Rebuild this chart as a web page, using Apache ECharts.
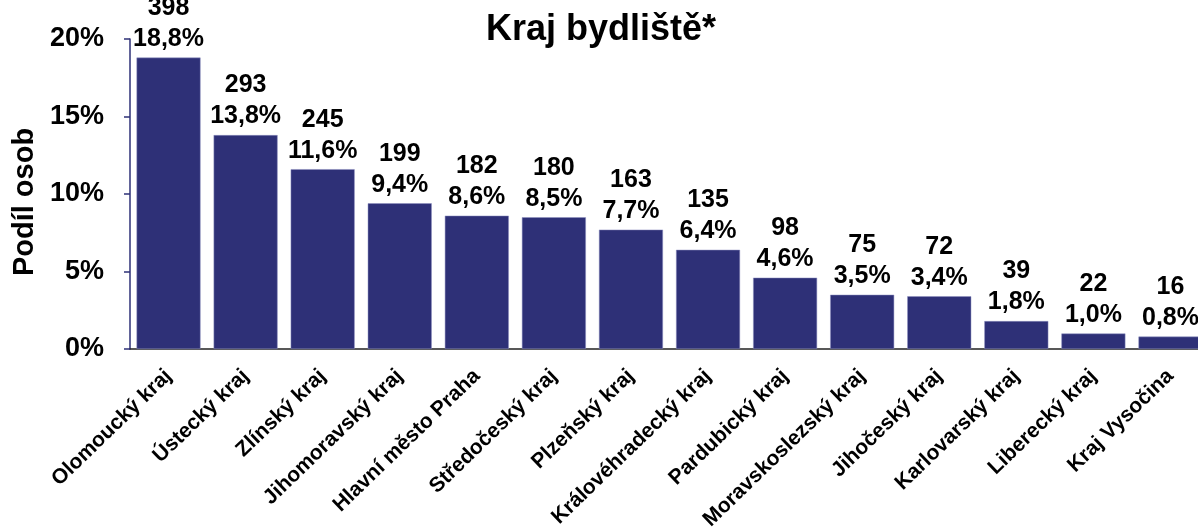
<!DOCTYPE html>
<html>
<head>
<meta charset="utf-8">
<script src="https://cdn.jsdelivr.net/npm/echarts@6/dist/echarts.min.js"></script>
<style>
  html, body { margin: 0; padding: 0; background: #fff; }
  #chart { width: 1198px; height: 528px; }
</style>
</head>
<body>
<div id="chart"></div>
<script>
// Kraj bydliště – počet osob a podíl
const categories = ['Olomoucký kraj', 'Ústecký kraj', 'Zlínský kraj', 'Jihomoravský kraj',
  'Hlavní město Praha', 'Středočeský kraj', 'Plzeňský kraj', 'Královéhradecký kraj',
  'Pardubický kraj', 'Moravskoslezský kraj', 'Jihočeský kraj', 'Karlovarský kraj',
  'Liberecký kraj', 'Kraj Vysočina']
const counts = [398, 293, 245, 199, 182, 180, 163, 135, 98, 75, 72, 39, 22, 16]
const shares = [18.8, 13.8, 11.6, 9.4, 8.6, 8.5, 7.7, 6.4, 4.6, 3.5, 3.4, 1.8, 1.0, 0.8]
const yTicks = [0, 5, 10, 15, 20]

const font = 'Liberation Sans, Arial, sans-serif'
const chart = echarts.init(document.getElementById('chart'))
chart.setOption({
  animation: false,
  title: {
    text: 'Kraj bydliště*',
    left: 596,
    top: 7,
    textAlign: 'center',
    textStyle: { fontFamily: font, fontSize: 36, fontWeight: 'bold', color: '#000' }
  },
  grid: { left: 130, top: 39, width: 1079, height: 310, outerBoundsMode: 'none' },
  xAxis: {
    type: 'category',
    data: categories,
    axisLine: { lineStyle: { color: '#222', width: 1.5 } },
    axisTick: { length: 6, lineStyle: { color: '#222', width: 1.5 } },
    axisLabel: {
      interval: 0,
      rotate: 44,
      margin: 24,
      fontFamily: font,
      fontSize: 21,
      fontWeight: 'bold',
      color: '#000'
    }
  },
  yAxis: {
    type: 'value',
    min: yTicks[0],
    max: yTicks[yTicks.length - 1],
    interval: 5,
    name: 'Podíl osob',
    nameLocation: 'middle',
    nameGap: 91,
    nameTextStyle: { fontFamily: font, fontSize: 29, fontWeight: 'bold', color: '#000', padding: [0, 16, 0, 0] },
    splitLine: { show: false },
    axisLine: { show: true, lineStyle: { color: '#2E3077', width: 1.5 } },
    axisTick: { show: true, length: 6, lineStyle: { color: '#2E3077', width: 1.5 } },
    axisLabel: {
      formatter: '{value}%',
      margin: 26,
      fontFamily: font,
      fontSize: 27,
      fontWeight: 'bold',
      color: '#000'
    }
  },
  series: [{
    type: 'bar',
    data: shares,
    barCategoryGap: '17%',
    itemStyle: { color: '#2E3077', borderColor: '#8F91C0', borderWidth: 0.5 },
    label: {
      show: true,
      position: 'top',
      distance: 3,
      fontFamily: font,
      fontSize: 25,
      fontWeight: 'bold',
      lineHeight: 31,
      color: '#000',
      formatter: p => counts[p.dataIndex] + '\n' + shares[p.dataIndex].toFixed(1).replace('.', ',') + '%'
    }
  }]
})
</script>
</body>
</html>
